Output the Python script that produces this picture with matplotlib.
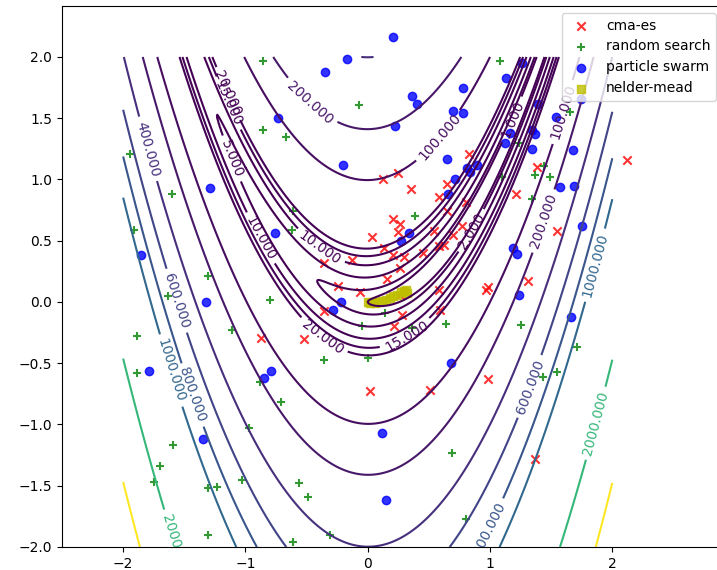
import matplotlib
matplotlib.use("Agg")
import matplotlib.pyplot as plt
import numpy as np

# contour levels of the Rosenbrock function
levels = [1, 2, 5, 10, 15, 20, 100, 200, 400, 600, 800, 1000, 2000, 3000]

# sample points of each optimiser (x, y)
cma_x = [0.125, 0.83, 2.12, 1.38, 0.25, 0.35, 0.65, 0.58, 1.21, 0.80, 0.65, 0.21,
         0.26, 0.25, 0.54, 0.77, 0.70, 1.55, 0.13, 0.21, 0.30, 0.45, 0.58, 0.62,
         0.26, 1.31, 0.98, 0.97, 0.035, -0.13, -0.36, 0.16, -0.065, -0.24, 0.26,
         0.58, 0.59, 0.28, -0.36, 0.215, -0.52, -0.87, 0.02, 0.51, 0.98, 1.37]
cma_y = [1.00, 1.21, 1.16, 1.10, 1.05, 0.92, 0.96, 0.86, 0.88, 0.82, 0.74, 0.68,
         0.64, 0.57, 0.58, 0.62, 0.55, 0.58, 0.44, 0.38, 0.37, 0.40, 0.46, 0.465,
         0.28, 0.17, 0.12, 0.10, 0.53, 0.34, 0.32, 0.185, 0.085, 0.13, 0.06,
         0.10, -0.065, -0.11, -0.075, -0.20, -0.30, -0.29, -0.73, -0.715, -0.63, -1.28]

rand_x = [-0.86, -0.07, -0.86, -0.67, -1.94, -1.60, -0.61, -0.62, -1.91, -1.31,
          1.08, 1.65, 1.24, 1.44, 1.37, 1.49, 1.10, 1.34, 0.39, -1.63,
          -0.80, -1.11, -1.89, -1.89, -0.05, 0.145, -0.36, 0.00, -0.88, -0.71,
          -0.97, -1.59, -1.70, -1.745, -1.31, -1.23, -1.03, -0.56, -0.49, -1.31,
          -0.61, -0.31, 0.36, 0.64, 1.25, 1.715, 1.43, 1.55, 0.685, 0.80]
rand_y = [1.97, 1.61, 1.40, 1.35, 1.21, 0.88, 0.74, 0.59, 0.59, 0.215,
          1.97, 1.55, 1.30, 1.11, 1.04, 1.02, 1.02, 0.84, 0.70, 0.05,
          0.02, -0.23, -0.28, -0.58, -0.20, -0.09, -0.47, -0.455, -0.65, -0.82,
          -1.03, -1.17, -1.34, -1.47, -1.52, -1.51, -1.45, -1.48, -1.59, -1.90,
          -1.96, -1.90, -0.215, -0.18, -0.19, -0.365, -0.61, -0.57, -1.23, -1.77]

pso_x = [-0.17, -0.35, -0.73, -0.20, -1.29, -0.76, -1.85, 0.21, 1.13, 0.78,
         0.36, 0.40, 0.70, 0.78, 0.22, 1.39, 1.74, 1.54, 1.16, 1.34,
         1.37, 1.34, 1.68, 1.12, 0.65, 0.81, 0.89, 0.84, 0.71, 0.66,
         1.57, 1.69, 1.75, 0.34, 0.27, 1.19, 1.22, 1.26, -1.32, -1.79,
         -0.22, -0.28, -0.79, -0.845, -1.35, 0.12, 0.15, 1.24, 1.66, 0.68]
pso_y = [1.98, 1.88, 1.50, 1.12, 0.93, 0.56, 0.38, 2.16, 1.83, 1.75,
         1.68, 1.62, 1.56, 1.54, 1.44, 1.62, 1.66, 1.51, 1.38, 1.40,
         1.37, 1.25, 1.24, 1.30, 1.17, 1.09, 1.12, 1.06, 1.00, 0.88,
         0.94, 0.95, 0.62, 0.56, 0.50, 0.44, 0.39, 1.95, 0.00, -0.56,
         0.00, -0.065, -0.56, -0.62, -1.12, -1.07, -1.62, 0.055, -0.125, -0.50]

nm_x = [0.00, 0.02, 0.04, 0.06, 0.09, 0.12, 0.15, 0.18, 0.21, 0.24, 0.27, 0.30, 0.32, 0.31]
nm_y = [0.00, -0.01, 0.00, -0.01, 0.00, 0.01, 0.02, 0.03, 0.05, 0.06, 0.08, 0.09, 0.07, 0.095]

# where the contour labels sit (approximate, snapped onto the line below)
label_pos = {
    1: [(1.19, 1.49)], 2: [(0.84, 0.59)], 5: [(-1.12, 1.17)],
    10: [(-0.88, 0.52), (-0.39, 0.45)], 15: [(0.31, -0.27), (-1.12, 1.63)],
    20: [(-0.37, -0.28), (-1.16, 1.69)], 100: [(0.58, 1.35), (1.59, 1.55)],
    200: [(-0.52, 1.57), (1.44, 0.66)], 400: [(-1.82, 1.24)],
    600: [(-1.56, 0.01), (1.33, -0.69)], 800: [(-1.43, -0.76), (0.98, -1.85)],
    1000: [(-1.61, -0.56), (1.86, 0.30)], 2000: [(1.86, -0.99), (-1.57, -1.99)],
}

X, Y = np.meshgrid(np.linspace(-2, 2, 401), np.linspace(-2, 2, 401))
Z = (1 - X) ** 2 + 100 * (Y - X ** 2) ** 2

fig = plt.figure(figsize=(7.17, 5.70), dpi=100)
ax = fig.add_axes([62 / 717, 23 / 570, 661 / 717, 541 / 570])

cs = ax.contour(X, Y, Z, levels=levels, cmap="viridis")

ax.set_xlim(-2.5, 2.905)
ax.set_ylim(-2.0, 2.416)

# snap each label position onto its own contour line
manual = []
for lev, pos in label_pos.items():
    segs = cs.allsegs[levels.index(lev)]
    pts = np.vstack([s for s in segs if len(s)])
    for px, py in pos:
        d = (pts[:, 0] - px) ** 2 + (pts[:, 1] - py) ** 2
        manual.append(tuple(pts[np.argmin(d)]))
ax.clabel(cs, fmt="%1.3f", manual=manual, inline=True)

ax.scatter(cma_x, cma_y, marker="x", color="red", alpha=0.8, label="cma-es")
ax.scatter(rand_x, rand_y, marker="+", color="green", alpha=0.8, label="random search")
ax.scatter(pso_x, pso_y, marker="o", color="blue", alpha=0.8, label="particle swarm")
ax.scatter(nm_x, nm_y, marker="s", color="y", alpha=0.8, label="nelder-mead")

ax.set_xticks([-2, -1, 0, 1, 2])
ax.set_yticks(np.arange(-2.0, 2.01, 0.5))
ax.legend(loc="upper right")

fig.savefig("out.png", dpi=100)
